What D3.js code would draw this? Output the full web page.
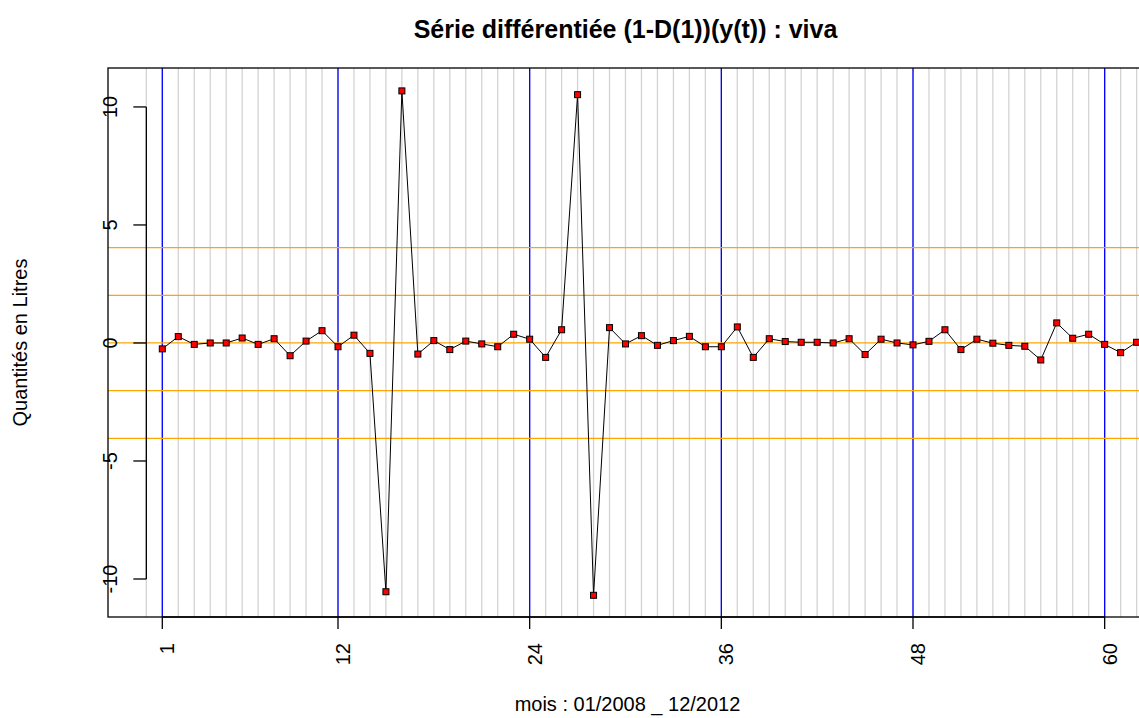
<!DOCTYPE html>
<html>
<head>
<meta charset="utf-8">
<script src="https://cdn.jsdelivr.net/npm/d3@7"></script>
<style>
  body { margin: 0; background: #fff; }
  text { font-family: "Liberation Sans", Arial, sans-serif; fill: #000; }
</style>
</head>
<body>
<svg id="chart" width="1139" height="718"></svg>
<script>
let svg = d3.select("#chart");

// months (x) and differenced series values
let months = d3.range(1, 63);
let values = [-0.25, 0.27, -0.06, 0.0, 0.0, 0.21, -0.06, 0.18, -0.54, 0.08,
              0.52, -0.16, 0.33, -0.44, -10.54, 10.68, -0.47, 0.10, -0.28, 0.08,
              -0.04, -0.16, 0.37, 0.16, -0.61, 0.56, 10.52, -10.69, 0.65, -0.04,
              0.31, -0.10, 0.10, 0.28, -0.16, -0.16, 0.68, -0.61, 0.18, 0.06,
              0.03, 0.03, 0.0, 0.18, -0.49, 0.16, 0.0, -0.08, 0.07, 0.56,
              -0.28, 0.16, -0.01, -0.10, -0.14, -0.72, 0.85, 0.20, 0.37, -0.06,
              -0.41, 0.03];

let x_ticks = [1, 12, 24, 36, 48, 60];
let y_ticks = [-10, -5, 0, 5, 10];
let grid_x = d3.range(0, 63);
let year_lines = [1, 12, 24, 36, 48, 60];
let ref_levels = [4.04, 2.02, 0, -2.02, -4.04];

let title = "Série différentiée (1-D(1))(y(t)) : viva";
let x_label = "mois : 01/2008 _ 12/2012";
let y_label = "Quantités en Litres";

let plot_left = 108, plot_right = 1143, plot_top = 68, plot_bottom = 617;

let x = d3.scaleLinear().domain([-2.4, 62.4]).range([plot_left, plot_right]);
let y = d3.scaleLinear().domain([-11.61, 11.65]).range([plot_bottom, plot_top]);

svg.append("defs").append("clipPath")
    .attr("id", "plotclip")
    .append("rect")
    .attr("x", plot_left).attr("y", plot_top)
    .attr("width", plot_right - plot_left).attr("height", plot_bottom - plot_top);

let plot = svg.append("g").attr("clip-path", "url(#plotclip)");

// light gray vertical grid, one per month
plot.append("g")
    .selectAll("line")
    .data(grid_x)
    .join("line")
    .attr("x1", d => x(d)).attr("x2", d => x(d))
    .attr("y1", plot_top).attr("y2", plot_bottom)
    .attr("stroke", "#d3d3d3")
    .attr("stroke-width", 1.3);

// blue year separators
plot.append("g")
    .selectAll("line")
    .data(year_lines)
    .join("line")
    .attr("x1", d => x(d)).attr("x2", d => x(d))
    .attr("y1", plot_top).attr("y2", plot_bottom)
    .attr("stroke", "#0000ff")
    .attr("stroke-width", 1.3);

// orange reference levels
plot.append("g")
    .selectAll("line")
    .data(ref_levels)
    .join("line")
    .attr("x1", plot_left).attr("x2", plot_right)
    .attr("y1", d => y(d)).attr("y2", d => y(d))
    .attr("stroke", "#ffa500")
    .attr("stroke-width", 1.3);

let series = months.map((m, i) => ({m: m, v: values[i]}));

plot.append("path")
    .datum(series)
    .attr("fill", "none")
    .attr("stroke", "#000")
    .attr("stroke-width", 1)
    .attr("d", d3.line().x(d => x(d.m)).y(d => y(d.v)));

plot.append("g")
    .selectAll("rect")
    .data(series)
    .join("rect")
    .attr("x", d => x(d.m) - 3)
    .attr("y", d => y(d.v) - 3)
    .attr("width", 6).attr("height", 6)
    .attr("fill", "#ff0000")
    .attr("stroke", "#000")
    .attr("stroke-width", 1);

// box
svg.append("rect")
    .attr("x", plot_left).attr("y", plot_top)
    .attr("width", plot_right - plot_left).attr("height", plot_bottom - plot_top)
    .attr("fill", "none")
    .attr("stroke", "#000")
    .attr("stroke-width", 1.3);

// y axis drawn at x = 0
let yaxis = svg.append("g").attr("transform", `translate(${x(0)},0)`);
yaxis.append("line")
    .attr("x1", 0).attr("x2", 0)
    .attr("y1", y(d3.min(y_ticks))).attr("y2", y(d3.max(y_ticks)))
    .attr("stroke", "#000").attr("stroke-width", 1.3);
yaxis.selectAll(".ytick")
    .data(y_ticks)
    .join(function(enter){
        let g = enter.append("g").attr("class", "ytick");
        g.append("line")
            .attr("x1", -13).attr("x2", 0)
            .attr("y1", d => y(d)).attr("y2", d => y(d))
            .attr("stroke", "#000").attr("stroke-width", 1.3);
        g.append("text")
            .attr("transform", d => `translate(-29,${y(d)}) rotate(-90)`)
            .attr("text-anchor", "middle")
            .style("font-size", "20px")
            .text(d => d);
        return g;
    });

// x axis
let xaxis = svg.append("g");
xaxis.append("line")
    .attr("x1", x(x_ticks[0])).attr("x2", x(x_ticks[x_ticks.length - 1]))
    .attr("y1", plot_bottom).attr("y2", plot_bottom)
    .attr("stroke", "#000").attr("stroke-width", 1.3);
xaxis.selectAll(".xtick")
    .data(x_ticks)
    .join(function(enter){
        let g = enter.append("g").attr("class", "xtick");
        g.append("line")
            .attr("x1", d => x(d)).attr("x2", d => x(d))
            .attr("y1", plot_bottom).attr("y2", plot_bottom + 12)
            .attr("stroke", "#000").attr("stroke-width", 1.3);
        g.append("text")
            .attr("transform", d => `translate(${x(d) + 12},${plot_bottom + 26}) rotate(-90)`)
            .attr("text-anchor", "end")
            .style("font-size", "20px")
            .text(d => d);
        return g;
    });

// titles
svg.append("text")
    .attr("x", (plot_left + plot_right) / 2).attr("y", 38)
    .attr("text-anchor", "middle")
    .style("font-size", "25px")
    .style("font-weight", "bold")
    .text(title);

svg.append("text")
    .attr("x", (plot_left + plot_right) / 2 + 2).attr("y", 711)
    .attr("text-anchor", "middle")
    .style("font-size", "20px")
    .text(x_label);

svg.append("text")
    .attr("transform", `translate(27,${(plot_top + plot_bottom) / 2}) rotate(-90)`)
    .attr("text-anchor", "middle")
    .style("font-size", "20px")
    .text(y_label);
</script>
</body>
</html>
